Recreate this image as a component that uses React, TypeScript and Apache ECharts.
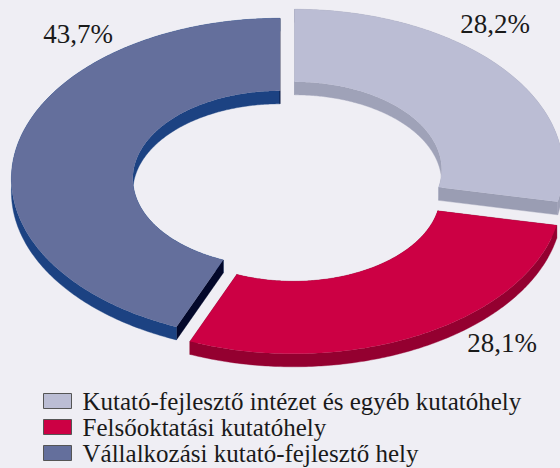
import React, { useEffect, useRef } from "react";
import * as echarts from "echarts";

// ---- data ----
const categories = [
  "Kutató-fejlesztő intézet és egyéb kutatóhely",
  "Felsőoktatási kutatóhely",
  "Vállalkozási kutató-fejlesztő hely",
];
const shares = [28.2, 28.1, 43.7];
const shareLabels = ["28,2%", "28,1%", "43,7%"];

// ---- style ----
const topColors = ["#bbbdd4", "#cc0044", "#646f9c"];
const wallColors = ["#9fa2b8", "#940030", "#1c4282"];
const cutColors = ["#9a9db3", "#8a002c", "#03082a"];
const explodeOffsets = [
  [14.5, -9],
  [13.5, 14.5],
  [0, 0],
];
const labelPositions = [
  [495, 24],
  [502, 343],
  [78, 34],
];
const CX = 280;
const CY = 178.8;
const RX = 268.6;
const RY = 160.5;
const INNER = 0.548;
const DEPTH = 13;
const BG = "#efeef4";
const SERIF = '"Liberation Serif", "DejaVu Serif", serif';

function pt(deg: number, f: number): number[] {
  const r = (deg * Math.PI) / 180;
  return [CX + f * RX * Math.sin(r), CY - f * RY * Math.cos(r)];
}

function makeRender(i: number) {
  return (_params: any, api: any) => {
    const total = shares.reduce((a, b) => a + b, 0);
    let acc = 0;
    for (let j = 0; j < i; j++) acc += shares[j];
    const v = api.value(0) as number;
    const a0 = (acc / total) * 360;
    const a1 = ((acc + v) / total) * 360;
    const N = Math.max(8, Math.ceil((a1 - a0) * 1.5));
    const outer: number[][] = [];
    const inner: number[][] = [];
    for (let k = 0; k <= N; k++) {
      const t = a0 + ((a1 - a0) * k) / N;
      outer.push(pt(t, 1));
      inner.push(pt(t, INNER));
    }
    const down = (p: number[]) => [p[0], p[1] + DEPTH];
    const outerD = outer.map(down);
    const innerD = inner.map(down);
    const poly = (points: number[][], fill: string) => ({
      type: "polygon",
      shape: { points },
      style: { fill, stroke: fill, lineWidth: 0.4 },
    });
    const children: any[] = [
      poly(inner.concat(innerD.slice().reverse()), wallColors[i]),
      poly([inner[0], outer[0], outerD[0], innerD[0]], cutColors[i]),
      poly([inner[N], outer[N], outerD[N], innerD[N]], cutColors[i]),
      poly(outer.concat(outerD.slice().reverse()), wallColors[i]),
      {
        type: "polygon",
        shape: { points: outer.concat(inner.slice().reverse()) },
        style: { fill: topColors[i] },
      },
    ];
    const [ox, oy] = explodeOffsets[i];
    const [lx, ly] = labelPositions[i];
    return {
      type: "group",
      children: [
        { type: "group", x: ox, y: oy, children },
        {
          type: "text",
          x: lx,
          y: ly,
          style: {
            text: shareLabels[i],
            fontFamily: SERIF,
            fontSize: 27,
            fill: "#1a1a1a",
            align: "center",
            verticalAlign: "middle",
          },
        },
      ],
    };
  };
}

export default function App() {
  const ref = useRef<HTMLDivElement>(null);
  useEffect(() => {
    if (!ref.current) return;
    document.body.style.margin = "0";
    const chart = echarts.init(ref.current, undefined, { renderer: "svg" });
    chart.setOption({
      animation: false,
      backgroundColor: BG,
      tooltip: { show: false },
      legend: {
        show: true,
        orient: "vertical",
        left: 43,
        top: 388,
        height: 120,
        padding: 0,
        itemWidth: 28,
        itemHeight: 15,
        itemGap: 0,
        icon: "rect",
        selectedMode: false,
        data: categories,
        itemStyle: { borderColor: "#555555", borderWidth: 1 },
        textStyle: {
          fontFamily: SERIF,
          fontSize: 25,
          lineHeight: 26,
          color: "#1a1a1a",
          padding: [0, 0, 0, 6],
        },
      },
      series: categories.map((name, i) => ({
        type: "custom",
        name,
        coordinateSystem: "none",
        itemStyle: { color: topColors[i] },
        renderItem: makeRender(i),
        data: [[shares[i]]],
      })),
    });
    return () => chart.dispose();
  }, []);
  return <div ref={ref} style={{ width: 560, height: 468, margin: 0 }} />;
}
